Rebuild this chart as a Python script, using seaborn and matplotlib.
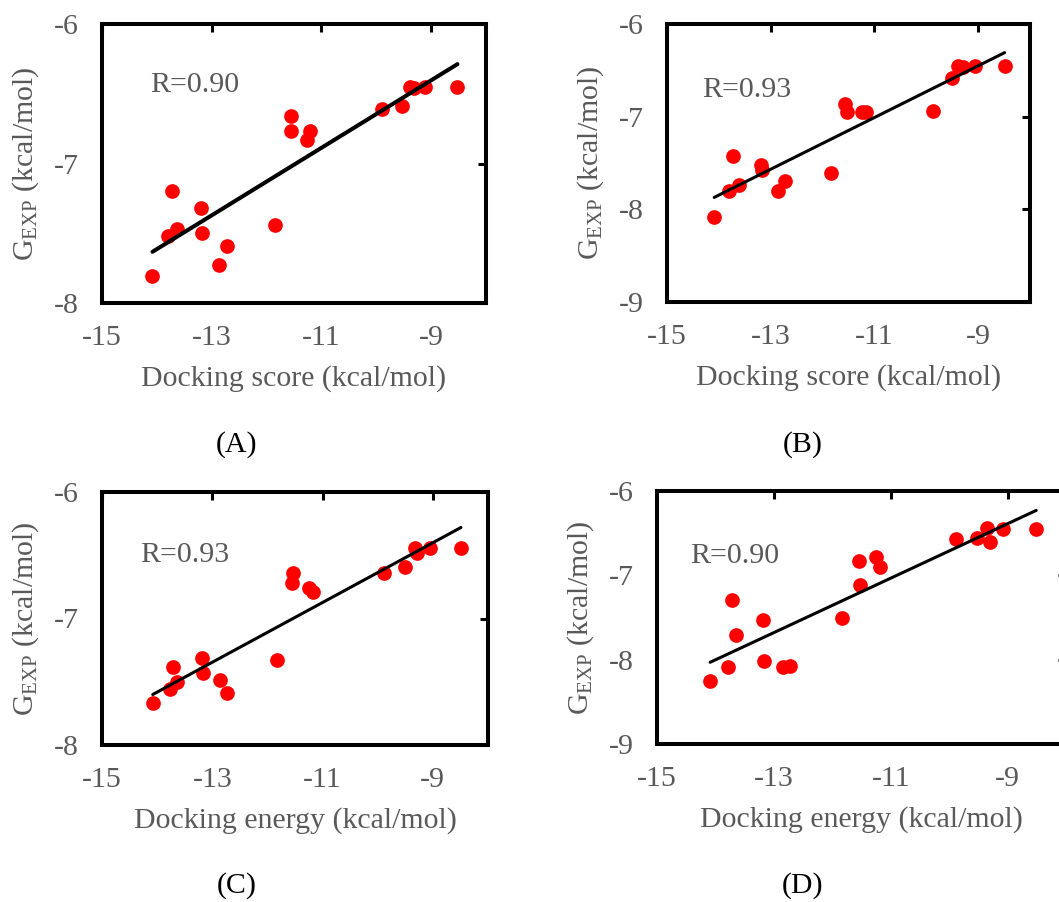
import numpy as np
import pandas as pd
import matplotlib
matplotlib.use("Agg")
import matplotlib.pyplot as plt
import seaborn as sns

# values (19 compounds each)
score_x_a = [-14.08, -13.80, -13.72, -13.64, -13.19, -13.18, -12.86, -12.73, -11.84, -11.55,
             -11.56, -11.21, -11.27, -9.89, -9.54, -9.38, -9.31, -9.11, -8.52]
gexp_a = [-7.81, -7.52, -7.20, -7.47, -7.32, -7.50, -7.73, -7.59, -7.44, -6.66,
          -6.77, -6.77, -6.83, -6.61, -6.59, -6.45, -6.46, -6.45, -6.45]

score_x_b = [-14.09, -13.80, -13.72, -13.62, -13.18, -13.17, -12.85, -12.73, -11.83, -11.56,
             -11.53, -11.24, -11.17, -9.88, -9.51, -9.38, -9.30, -9.07, -8.49]
gexp_b = [-8.08, -7.80, -7.42, -7.74, -7.52, -7.58, -7.80, -7.69, -7.61, -6.86,
          -6.95, -6.95, -6.95, -6.94, -6.58, -6.45, -6.46, -6.45, -6.45]

energy_x_c = [-14.08, -13.77, -13.71, -13.64, -13.18, -13.17, -12.86, -12.73, -11.82, -11.53,
              -11.55, -11.25, -11.18, -9.88, -9.51, -9.33, -9.29, -9.06, -8.49]
gexp_c = [-7.67, -7.56, -7.38, -7.50, -7.31, -7.43, -7.49, -7.59, -7.33, -6.64,
          -6.72, -6.76, -6.79, -6.64, -6.59, -6.44, -6.48, -6.44, -6.44]

energy_x_d = [-14.09, -13.78, -13.71, -13.64, -13.18, -13.17, -12.84, -12.72, -11.83, -11.55,
              -11.53, -11.26, -11.19, -9.89, -9.52, -9.36, -9.30, -9.08, -8.51]
gexp_d = [-8.25, -8.09, -7.29, -7.71, -7.53, -8.01, -8.09, -8.07, -7.51, -6.83,
          -7.11, -6.78, -6.90, -6.57, -6.56, -6.44, -6.60, -6.45, -6.45]

x_ticks = [-15, -13, -11, -9]
r_labels = ["R=0.90", "R=0.93", "R=0.93", "R=0.90"]
panel_labels = ["(A)", "(B)", "(C)", "(D)"]

sns.set_theme(style="white")
plt.rcParams["font.family"] = ["Liberation Serif", "DejaVu Serif"]
plt.rcParams["mathtext.fontset"] = "custom"
plt.rcParams["mathtext.rm"] = "Liberation Serif"
plt.rcParams["mathtext.it"] = "Liberation Serif:italic"

GRAY = "#595959"
FS = 21.5
W, H = 1059, 902
fig = plt.figure(figsize=(W / 100, H / 100), dpi=100)

# (left, top, right, bottom) in pixels
boxes = [(102, 24, 486, 303), (667, 24, 1030, 302),
         (102, 492, 488, 745), (657, 491, 1066, 744)]
ylims = [(-8, -6), (-9, -6), (-8, -6), (-9, -6)]
xlabels = ["Docking score (kcal/mol)", "Docking score (kcal/mol)",
           "Docking energy (kcal/mol)", "Docking energy (kcal/mol)"]
r_pos = [(-14.13, -6.44), (-14.33, -6.71), (-14.31, -6.50), (-14.44, -6.77)]
label_pos = [(237, 445), (803, 445), (237, 886), (803, 886)]
line_w = [2.9, 2.2, 2.2, 2.2]

panels = [(score_x_a, gexp_a), (score_x_b, gexp_b),
          (energy_x_c, gexp_c), (energy_x_d, gexp_d)]

for i, (xs, ys) in enumerate(panels):
    l, t, r, b = boxes[i]
    ax = fig.add_axes([l / W, 1 - b / H, (r - l) / W, (b - t) / H])
    df = pd.DataFrame({"x": xs, "y": ys})
    sns.regplot(data=df, x="x", y="y", ax=ax, ci=None, truncate=True,
                scatter_kws=dict(s=112, color="#ff0000", alpha=1, linewidths=0, zorder=2),
                line_kws=dict(color="black", lw=line_w[i], zorder=3))
    lo, hi = ylims[i]
    ax.set_xlim(-15, -8)
    ax.set_ylim(lo, hi)
    ax.set_xticks(x_ticks)
    ax.set_yticks(np.arange(hi, lo - 1, -1))
    ax.set_xticklabels([str(v) for v in x_ticks])
    ax.set_yticklabels([str(v) for v in np.arange(hi, lo - 1, -1)])
    for s in ax.spines.values():
        s.set_visible(True)
        s.set_color("black")
        s.set_linewidth(2.9)
    ax.tick_params(axis="both", which="major", direction="in", length=5.5, width=2.2,
                   color="black", labelcolor=GRAY, labelsize=FS,
                   bottom=False, left=False, top=True, right=True,
                   labelbottom=True, labelleft=True, labeltop=False, labelright=False)
    ax.tick_params(axis="x", pad=16)
    ax.tick_params(axis="y", pad=17)
    ax.set_xlabel(xlabels[i], fontsize=FS, color=GRAY, labelpad=10)
    ax.set_ylabel(r"G$_{\mathrm{EXP}}$ (kcal/mol)", fontsize=FS, color=GRAY, labelpad=9)
    ax.text(r_pos[i][0], r_pos[i][1], r_labels[i], fontsize=FS, color=GRAY,
            ha="left", va="center")
    px, py = label_pos[i]
    fig.text(px / W, 1 - py / H, panel_labels[i], fontsize=FS, color="black",
             ha="center", va="center")

fig.savefig("out.png", dpi=100)
